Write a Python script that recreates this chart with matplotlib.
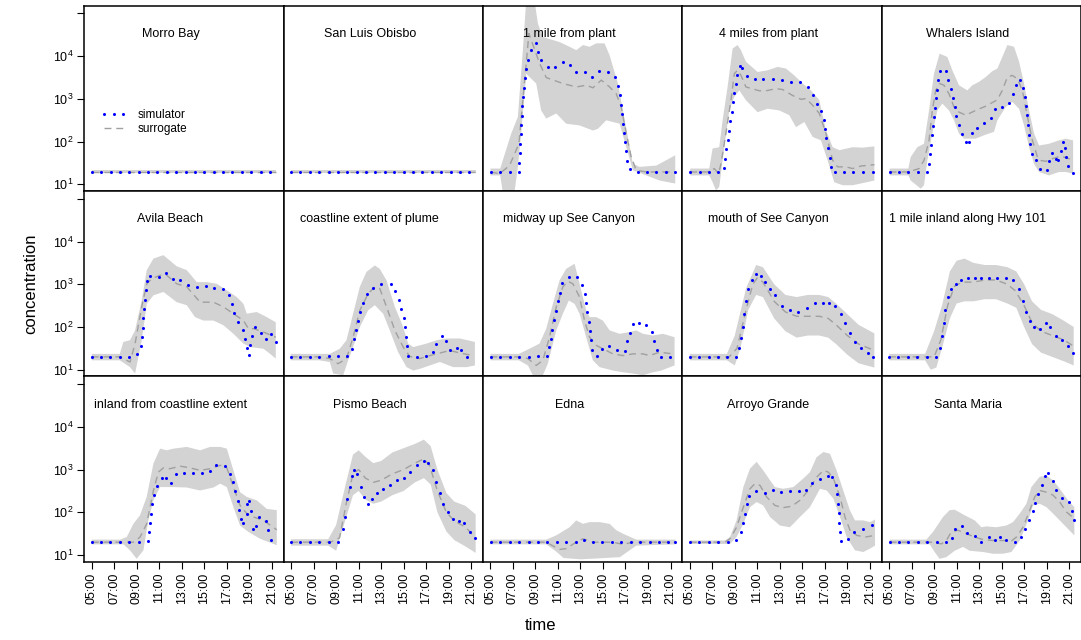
import matplotlib

matplotlib.use("Agg")
import matplotlib.pyplot as plt
from matplotlib.lines import Line2D
import numpy as np

plt.rcParams["font.family"] = ["Liberation Sans", "DejaVu Sans"]
plt.rcParams["mathtext.default"] = "regular"

# panel order: row by row, left to right
locations = [
    "Morro Bay", "San Luis Obisbo", "1 mile from plant", "4 miles from plant", "Whalers Island",
    "Avila Beach", "coastline extent of plume", "midway up See Canyon", "mouth of See Canyon",
    "1 mile inland along Hwy 101",
    "inland from coastline extent", "Pismo Beach", "Edna", "Arroyo Grande", "Santa Maria",
]

hour_ticks = [5, 7, 9, 11, 13, 15, 17, 19, 21]
hour_labels = ["05:00", "07:00", "09:00", "11:00", "13:00", "15:00", "17:00", "19:00", "21:00"]

flat_t = [5.0, 5.83, 6.67, 7.5, 8.33, 9.17, 10.0, 10.83, 11.67, 12.5, 13.33, 14.17, 15.0,
          15.83, 16.67, 17.5, 18.33, 19.17, 20.0, 20.83]
flat_v = [1.3] * 20

# simulator output: time (hours) and log10 concentration
sim_t = [
    flat_t,
    flat_t,
    [5.01, 5.87, 6.70, 7.53, 7.56, 7.59, 7.65, 7.71, 7.73, 7.79, 7.85, 7.91, 7.97, 8.03, 8.15, 8.36,
     8.59, 9.01, 9.25, 9.51, 10.1, 10.76, 11.41, 12.09, 12.57, 13.4, 14.05, 14.64, 15.41, 16.03,
     16.33, 16.5, 16.62, 16.71, 16.8, 16.89, 16.98, 17.07, 17.16, 17.4, 18.08, 18.91, 19.74, 20.6, 21.42],
    [5.04, 5.87, 6.70, 7.53, 8.04, 8.16, 8.24, 8.36, 8.48, 8.6, 8.72, 8.84, 8.96, 9.08, 9.19, 9.43,
     9.67, 10.08, 10.79, 11.53, 12.36, 13.19, 13.99, 14.79, 15.47, 15.92, 16.33, 16.69, 16.9, 17.02,
     17.13, 17.28, 17.46, 17.58, 17.87, 18.7, 19.53, 20.39, 21.25],
    [5.05, 5.88, 6.71, 7.57, 8.4, 8.58, 8.66, 8.75, 8.84, 8.93, 8.99, 9.08, 9.14, 9.23, 9.35, 9.49,
     10.03, 10.27, 10.53, 10.71, 10.83, 10.98, 11.18, 11.48, 11.84, 12.13, 12.37, 12.78, 13.44,
     14.06, 14.38, 15.06, 15.66, 16.04, 16.28, 16.61, 16.9, 17.05, 17.17, 17.26, 17.35, 17.47,
     17.55, 17.73, 18.03, 18.38, 19.01, 19.21, 19.48, 19.81, 20.04, 20.25, 20.46, 20.61, 20.75,
     20.9, 21.35],
    [5.0, 5.83, 6.66, 7.49, 8.32, 9.06, 9.38, 9.47, 9.53, 9.59, 9.65, 9.74, 9.8, 9.89, 10.18, 11.01,
     11.57, 12.2, 12.88, 13.53, 14.33, 15.16, 15.9, 16.7, 17.17, 17.5, 17.68, 18.03, 18.42, 18.6,
     18.77, 18.95, 19.1, 19.28, 19.46, 20.08, 20.46, 20.94, 21.35],
    [4.97, 5.83, 6.66, 7.49, 8.35, 9.18, 10.01, 10.43, 10.6, 10.78, 10.96, 11.14, 11.4, 11.76,
     12.32, 13.03, 13.86, 14.25, 14.57, 14.78, 14.99, 15.11, 15.2, 15.34, 15.43, 16.17, 17.03,
     17.57, 17.89, 18.37, 18.72, 19.11, 19.73, 20.14, 20.65],
    [5.01, 5.87, 6.7, 7.53, 8.39, 9.22, 10.02, 10.19, 10.34, 10.49, 10.64, 10.79, 10.99, 11.14,
     11.38, 11.94, 12.68, 13.1, 13.36, 13.51, 13.6, 13.72, 13.81, 13.9, 14.02, 14.43, 14.9, 15.56,
     16.24, 16.98, 17.13, 17.36, 17.66, 18.22, 18.85, 19.32, 19.53, 19.76, 20.12, 20.95],
    [5.0, 5.83, 6.67, 7.5, 8.33, 9.1, 9.4, 9.55, 9.7, 9.85, 10.0, 10.2, 10.5, 10.9, 11.3, 11.7,
     12.1, 12.6, 13.2, 13.9, 14.6, 15.4, 16.1, 16.8, 17.4, 17.9, 18.4, 18.8, 19.2, 19.7, 20.2,
     20.8, 21.3],
    [5.0, 5.83, 6.67, 7.5, 8.33, 9.17, 9.5, 9.7, 9.85, 10.0, 10.2, 10.5, 10.9, 11.4, 12.0, 12.6,
     13.2, 13.9, 14.6, 15.4, 16.0, 16.5, 16.9, 17.2, 17.5, 17.9, 18.4, 18.9, 19.3, 19.8, 20.4,
     20.9, 21.3],
    [5.0, 5.83, 6.66, 7.51, 8.35, 9.17, 9.97, 10.09, 10.18, 10.27, 10.39, 10.57, 10.83, 11.22,
     11.6, 12.05, 12.46, 13.23, 14.03, 14.78, 15.52, 16.02, 16.85, 17.29, 17.59, 17.77, 17.95,
     18.12, 18.3, 18.48, 18.78, 18.83, 18.95, 19.13, 19.37, 19.6, 19.9, 20.46, 20.7, 20.91],
    [5.0, 5.83, 6.67, 7.5, 8.33, 9.17, 9.6, 9.8, 10.0, 10.2, 10.4, 10.6, 10.9, 11.2, 11.5, 11.8,
     12.2, 12.6, 13.2, 13.8, 14.4, 15.0, 15.6, 16.2, 16.8, 17.2, 17.6, 17.9, 18.2, 18.5, 18.9,
     19.4, 19.9, 20.4, 20.9, 21.3],
    [5.01, 5.87, 6.7, 7.53, 8.39, 9.22, 10.05, 10.91, 11.73, 12.56, 13.31, 14.1, 14.93, 15.79,
     16.62, 17.45, 18.31, 19.14, 19.97, 20.8, 21.4],
    [5.01, 5.84, 6.7, 7.53, 8.36, 9.1, 9.52, 9.76, 9.9, 10.05, 10.29, 10.91, 11.71, 12.39, 13.07,
     13.87, 14.67, 15.36, 15.89, 16.6, 17.25, 17.67, 17.96, 18.08, 18.17, 18.23, 18.29, 18.35,
     18.47, 19.09, 19.59, 20.42, 21.16],
    [5.05, 5.88, 6.71, 7.57, 8.4, 9.23, 10.06, 10.62, 10.89, 11.48, 11.92, 12.64, 13.2, 13.85,
     14.41, 14.89, 15.42, 16.16, 16.72, 17.08, 17.41, 17.79, 17.97, 18.24, 18.59, 18.86, 19.12,
     19.57, 19.87, 20.34, 21.02, 21.26, 21.46],
]
sim_v = [
    flat_v,
    flat_v,
    [1.29, 1.29, 1.29, 1.29, 1.51, 1.73, 1.95, 2.17, 2.38, 2.6, 2.83, 3.05, 3.26, 3.49, 3.71, 3.92,
     4.14, 4.31, 4.1, 3.9, 3.75, 3.75, 3.87, 3.8, 3.63, 3.62, 3.52, 3.65, 3.64, 3.51,
     3.3, 3.08, 2.86, 2.64, 2.42, 2.2, 1.98, 1.77, 1.55, 1.35, 1.29, 1.29, 1.29, 1.29, 1.29],
    [1.29, 1.29, 1.29, 1.29, 1.39, 1.6, 1.82, 2.03, 2.25, 2.48, 2.69, 2.93, 3.14, 3.36, 3.56, 3.78,
     3.72, 3.53, 3.47, 3.47, 3.47, 3.45, 3.4, 3.4, 3.28, 3.1, 2.89, 2.71, 2.5, 2.29,
     2.09, 1.86, 1.62, 1.41, 1.29, 1.29, 1.29, 1.29, 1.29],
    [1.29, 1.29, 1.29, 1.29, 1.29, 1.48, 1.7, 1.93, 2.15, 2.36, 2.58, 2.79, 3.01, 3.22, 3.44, 3.66,
     3.66, 3.45, 3.24, 3.02, 2.81, 2.59, 2.39, 2.17, 1.98, 1.98, 2.2, 2.33, 2.44,
     2.56, 2.77, 2.8, 2.9, 3.11, 3.32, 3.45, 3.26, 3.05, 2.83, 2.62, 2.38, 2.16,
     1.94, 1.72, 1.56, 1.35, 1.33, 1.54, 1.74, 1.6, 1.56, 1.78, 1.99, 1.85, 1.64,
     1.42, 1.27],
    [1.3, 1.3, 1.3, 1.3, 1.3, 1.36, 1.55, 1.76, 1.98, 2.2, 2.42, 2.64, 2.86, 3.08, 3.19, 3.18,
     3.27, 3.12, 3.11, 2.99, 2.93, 2.96, 2.91, 2.9, 2.74, 2.54, 2.33, 2.12, 1.94, 1.72,
     1.51, 1.35, 1.58, 1.78, 1.99, 1.87, 1.71, 1.84, 1.65],
    [1.3, 1.3, 1.3, 1.3, 1.31, 1.31, 1.32, 1.49, 1.71, 1.93, 2.15, 2.35, 2.56, 2.76,
     2.92, 3.01, 3.0, 2.83, 2.63, 2.42, 2.21, 1.99, 1.77, 1.55, 1.33, 1.3, 1.31,
     1.41, 1.61, 1.8, 1.66, 1.47, 1.51, 1.45, 1.3],
    [1.3, 1.3, 1.3, 1.3, 1.3, 1.31, 1.32, 1.52, 1.73, 1.94, 2.16, 2.38, 2.6, 2.79,
     3.03, 3.17, 3.17, 2.99, 2.78, 2.56, 2.34, 2.12, 1.9, 1.69, 1.47, 1.32, 1.49, 1.56,
     1.47, 1.44, 1.66, 1.87, 2.08, 2.09, 2.05, 1.89, 1.67, 1.47, 1.3, 1.3],
    [1.3, 1.3, 1.3, 1.3, 1.3, 1.3, 1.5, 1.75, 2.0, 2.3, 2.6, 2.9, 3.1, 3.25, 3.2, 3.05,
     2.9, 2.75, 2.5, 2.4, 2.35, 2.45, 2.55, 2.55, 2.55, 2.5, 2.3, 2.1, 1.85, 1.65, 1.5,
     1.4, 1.3],
    [1.3, 1.3, 1.3, 1.3, 1.3, 1.3, 1.5, 1.8, 2.1, 2.4, 2.7, 2.9, 3.0, 3.1, 3.15, 3.15,
     3.15, 3.15, 3.15, 3.15, 3.1, 2.9, 2.6, 2.35, 2.15, 2.0, 1.95, 2.1, 2.0, 1.8, 1.7,
     1.55, 1.4],
    [1.3, 1.3, 1.3, 1.3, 1.3, 1.3, 1.32, 1.53, 1.75, 1.97, 2.19, 2.4, 2.61, 2.81,
     2.81, 2.69, 2.89, 2.93, 2.91, 2.93, 2.97, 3.11, 3.08, 2.9, 2.71, 2.49, 2.27,
     2.06, 1.85, 1.76, 1.97, 2.19, 2.26, 2.04, 1.62, 1.69, 1.89, 1.8, 1.58, 1.36],
    [1.3, 1.3, 1.3, 1.3, 1.3, 1.3, 1.6, 1.9, 2.3, 2.6, 2.85, 3.0, 2.9, 2.6, 2.35, 2.2,
     2.3, 2.45, 2.55, 2.65, 2.75, 2.8, 2.95, 3.1, 3.2, 3.15, 3.0, 2.7, 2.45, 2.2, 2.0,
     1.85, 1.8, 1.75, 1.55, 1.4],
    [1.3, 1.3, 1.3, 1.3, 1.3, 1.3, 1.3, 1.3, 1.3, 1.3, 1.36, 1.3, 1.3, 1.3,
     1.3, 1.3, 1.3, 1.3, 1.3, 1.3, 1.3],
    [1.3, 1.3, 1.3, 1.3, 1.3, 1.36, 1.54, 1.75, 1.97, 2.19, 2.37, 2.5, 2.44, 2.51, 2.47,
     2.5, 2.5, 2.53, 2.68, 2.77, 2.86, 2.82, 2.63, 2.42, 2.2, 1.98, 1.76, 1.53,
     1.32, 1.37, 1.55, 1.61, 1.71],
    [1.3, 1.3, 1.3, 1.3, 1.3, 1.3, 1.3, 1.4, 1.6, 1.69, 1.51, 1.44, 1.3, 1.42,
     1.34, 1.43, 1.34, 1.3, 1.42, 1.62, 1.82, 2.02, 2.22, 2.43, 2.65, 2.85, 2.92,
     2.73, 2.53, 2.34, 2.24, 2.02, 1.81],
]

# surrogate mean (dashed) and band edges, log10 concentration
sur_t = [
    [5.0, 21.4], [5.0, 21.4],
    [5.04, 5.81, 6.7, 7.53, 8.42, 9.37, 9.96, 11.44, 12.63, 13.52, 14.11, 14.85, 15.59, 16.18,
     16.62, 17.07, 17.51, 17.96, 18.85, 21.42],
    [5.04, 5.9, 6.7, 7.18, 7.56, 7.77, 8.21, 8.66, 8.96, 9.25, 9.55, 9.99, 11.18, 11.77, 12.66,
     13.25, 14.14, 14.88, 15.33, 15.92, 16.51, 17.1, 17.7, 18.14, 18.88, 19.47, 20.21, 21.4],
    [5.05, 6.71, 7.66, 8.1, 8.55, 8.84, 9.14, 9.49, 9.88, 10.32, 10.77, 11.21, 11.81, 12.69,
     13.58, 14.62, 15.06, 15.51, 15.95, 16.4, 16.84, 17.29, 17.73, 18.18, 18.47, 18.92, 19.51,
     20.25, 20.99, 21.35],
    [5.0, 7.49, 8.4, 8.85, 9.44, 9.89, 10.33, 11.07, 11.66, 12.55, 13.44, 14.63, 15.81, 16.7,
     17.59, 18.48, 18.92, 19.37, 20.26, 21.35],
    [4.97, 7.49, 8.44, 9.18, 9.92, 10.51, 11.11, 11.85, 12.44, 12.88, 13.48, 14.22, 14.96,
     15.55, 16.44, 17.33, 18.22, 19.11, 19.7, 20.59, 21.18],
    [5.01, 7.53, 8.33, 9.07, 9.66, 10.25, 10.85, 11.44, 11.88, 12.33, 12.92, 13.36, 13.81, 14.4,
     15.29, 15.88, 16.77, 17.66, 18.55, 19.14, 20.03, 21.22],
    [5.0, 8.5, 9.2, 10.0, 10.6, 11.0, 11.5, 12.5, 13.5, 14.5, 15.5, 16.5, 17.3, 18.0, 19.0,
     20.0, 21.4],
    [5.0, 8.5, 9.0, 9.6, 10.2, 10.8, 11.5, 12.5, 13.5, 14.5, 15.5, 16.2, 17.0, 17.7, 18.5,
     19.5, 20.5, 21.4],
    [5.0, 8.7, 9.29, 9.88, 10.48, 10.92, 11.37, 11.96, 12.85, 13.74, 14.63, 15.52, 16.41, 17.0,
     17.59, 18.18, 18.78, 19.37, 20.26, 21.44],
    [5.0, 8.5, 9.3, 9.9, 10.5, 11.0, 11.6, 12.3, 13.0, 14.0, 15.0, 16.0, 16.8, 17.3, 18.0,
     18.8, 19.5, 20.5, 21.4],
    [5.01, 9.96, 11.14, 11.73, 12.62, 13.22, 14.1, 15.88, 16.77, 17.66, 21.45],
    [5.01, 8.13, 8.57, 9.16, 9.76, 10.35, 10.79, 11.24, 11.83, 12.57, 13.31, 14.05, 14.79,
     15.53, 16.27, 16.87, 17.31, 17.76, 18.35, 18.79, 19.24, 19.83, 20.57, 21.46],
    [5.05, 8.9, 9.64, 10.09, 10.53, 11.12, 11.86, 12.61, 13.35, 14.24, 15.12, 15.87, 16.31,
     16.9, 17.5, 17.94, 18.38, 18.98, 19.57, 20.16, 20.75, 21.46],
]
sur_v = [
    [1.3, 1.3], [1.3, 1.3],
    [1.29, 1.25, 1.44, 1.95, 4.53, 3.83, 3.5, 3.36, 3.28, 3.32, 3.26, 3.44, 3.28, 3.12,
     2.81, 2.19, 1.64, 1.33, 1.29, 1.29],
    [1.29, 1.29, 1.29, 1.37, 1.25, 1.48, 2.19, 2.97, 3.59, 3.67, 3.55, 3.28, 3.19, 3.19, 3.24,
     3.22, 3.08, 2.99, 3.01, 2.85, 2.66, 2.19, 1.56, 1.41, 1.41, 1.37, 1.43, 1.46],
    [1.29, 1.29, 1.37, 1.56, 2.03, 2.73, 3.2, 3.36, 3.32, 3.12, 2.81, 2.69, 2.62, 2.73,
     2.83, 2.98, 3.2, 3.51, 3.55, 3.47, 3.2, 2.58, 2.03, 1.64, 1.56, 1.54, 1.6,
     1.66, 1.6, 1.58],
    [1.3, 1.3, 1.18, 1.61, 2.47, 3.01, 3.13, 3.21, 3.21, 3.01, 2.94, 2.58, 2.58, 2.47,
     2.31, 2.15, 1.96, 1.96, 1.88, 1.76],
    [1.3, 1.3, 1.26, 1.14, 1.26, 1.76, 2.39, 2.78, 2.94, 2.9, 2.47, 1.92, 1.53,
     1.31, 1.26, 1.33, 1.39, 1.45, 1.41, 1.36, 1.33],
    [1.3, 1.3, 1.26, 1.1, 1.22, 1.76, 2.47, 2.94, 3.07, 3.01, 2.7, 2.15, 1.76, 1.57,
     1.45, 1.37, 1.33, 1.37, 1.37, 1.33, 1.41, 1.37],
    [1.3, 1.3, 1.5, 2.4, 3.0, 3.15, 3.05, 2.6, 2.35, 2.25, 2.25, 2.25, 2.2, 2.05, 1.8,
     1.6, 1.45],
    [1.3, 1.3, 1.3, 1.7, 2.5, 2.95, 3.05, 3.05, 3.1, 3.1, 3.0, 2.85, 2.5, 2.1, 1.9,
     1.8, 1.7, 1.55],
    [1.3, 1.3, 1.42, 1.73, 2.51, 2.94, 3.04, 3.02, 3.08, 3.04, 2.98, 3.02, 3.1, 3.04,
     2.59, 2.16, 1.97, 1.89, 1.81, 1.59],
    [1.3, 1.3, 1.4, 2.2, 2.9, 3.0, 2.8, 2.7, 2.75, 2.9, 3.0, 3.15, 3.25, 3.1, 2.5,
     2.0, 1.8, 1.65, 1.4],
    [1.3, 1.3, 1.13, 1.15, 1.3, 1.38, 1.3, 1.3, 1.25, 1.3, 1.3],
    [1.3, 1.3, 1.38, 1.65, 2.12, 2.55, 2.67, 2.63, 2.36, 2.16, 2.11, 2.14, 2.28,
     2.51, 2.82, 2.98, 2.94, 2.79, 2.36, 1.89, 1.58, 1.46, 1.42, 1.46],
    [1.3, 1.3, 1.26, 1.34, 1.54, 1.58, 1.5, 1.42, 1.36, 1.34, 1.34, 1.33, 1.42,
     1.65, 2.05, 2.36, 2.51, 2.47, 2.4, 2.24, 2.01, 1.85],
]

hi_t = [
    [5.0, 21.4], [5.0, 21.4],
    [5.01, 5.87, 6.85, 7.44, 7.88, 8.18, 8.92, 9.22, 9.66, 11.14, 12.03, 12.63, 13.22, 13.81,
     14.4, 15.14, 15.59, 16.33, 16.77, 17.66, 18.25, 19.74, 21.42],
    [5.04, 6.73, 7.03, 7.62, 7.92, 8.36, 8.81, 9.25, 9.55, 9.99, 11.03, 11.92, 12.81, 13.55,
     14.29, 15.03, 15.77, 16.51, 17.1, 17.7, 18.29, 19.47, 20.36, 21.4],
    [5.05, 6.71, 6.92, 7.51, 8.1, 8.55, 8.99, 9.49, 10.18, 10.62, 11.21, 11.95, 12.4, 12.99,
     13.58, 14.18, 14.62, 15.06, 15.51, 16.1, 16.55, 16.99, 17.44, 17.88, 18.32, 19.21, 20.1,
     20.69, 21.35],
    [5.0, 7.49, 7.81, 8.4, 8.85, 9.44, 9.89, 10.48, 11.37, 12.55, 13.44, 14.33, 15.22, 16.11,
     16.99, 17.89, 18.48, 18.77, 19.66, 20.55, 21.35],
    [4.97, 7.49, 8.44, 9.33, 9.92, 10.51, 11.11, 11.7, 12.44, 12.88, 13.48, 14.22, 14.96, 15.4,
     15.85, 17.03, 17.92, 18.81, 20.0, 21.33],
    [5.01, 7.53, 8.47, 9.36, 9.96, 10.55, 11.14, 11.73, 12.48, 12.92, 13.51, 13.81, 14.4,
     14.99, 15.59, 16.47, 17.36, 17.96, 18.55, 19.44, 20.33, 21.36],
    [5.0, 8.3, 9.0, 10.0, 10.9, 11.5, 12.5, 13.5, 14.5, 15.5, 16.5, 17.3, 18.0, 19.0, 20.0,
     21.4],
    [5.0, 8.2, 9.0, 9.7, 10.4, 11.0, 11.7, 12.5, 13.5, 14.5, 15.5, 16.3, 17.0, 17.7, 18.5,
     19.5, 20.5, 21.4],
    [5.0, 7.52, 8.11, 8.7, 9.29, 9.88, 10.48, 11.07, 11.66, 12.26, 13.44, 14.63, 15.52, 16.41,
     17.0, 17.59, 18.18, 18.78, 19.66, 20.55, 21.44],
    [5.0, 8.3, 9.0, 9.8, 10.5, 11.0, 11.6, 12.3, 13.0, 14.0, 15.0, 16.0, 16.8, 17.4, 18.0,
     18.8, 19.5, 20.5, 21.4],
    [5.01, 9.96, 10.85, 12.03, 12.62, 13.22, 13.81, 14.7, 15.59, 16.18, 16.77, 17.96, 21.45],
    [5.01, 8.13, 8.57, 9.16, 9.76, 10.35, 10.94, 11.53, 12.13, 12.57, 13.31, 14.2, 15.09,
     15.68, 16.27, 16.87, 17.46, 18.05, 18.64, 19.24, 19.68, 20.42, 21.01, 21.46],
    [5.05, 8.31, 8.9, 9.79, 10.38, 10.83, 11.72, 12.61, 13.2, 13.64, 14.53, 15.42, 16.01,
     16.61, 17.2, 17.64, 18.38, 18.98, 19.57, 20.16, 20.9, 21.46],
]
hi_v = [
    [1.34, 1.34], [1.34, 1.34],
    [1.37, 1.37, 2.19, 2.58, 4.14, 5.3, 5.3, 4.76, 4.45, 4.33, 4.22, 4.14, 4.26, 4.22,
     4.3, 4.3, 4.02, 3.36, 2.73, 1.48, 1.41, 1.44, 1.68],
    [1.37, 1.37, 1.84, 1.87, 2.5, 3.28, 4.18, 4.26, 4.14, 3.87, 3.63, 3.67, 3.75, 3.71,
     3.55, 3.36, 3.2, 2.97, 2.27, 1.87, 1.8, 1.87, 1.86, 1.89],
    [1.37, 1.37, 1.64, 1.87, 1.95, 2.73, 3.59, 4.06, 3.98, 3.67, 3.32, 3.2, 3.32, 3.4,
     3.51, 3.65, 3.71, 3.98, 4.26, 4.22, 3.87, 3.36, 2.73, 2.19, 1.91, 1.95, 2.03,
     2.07, 2.03],
    [1.37, 1.37, 1.65, 1.69, 1.92, 2.62, 3.33, 3.6, 3.68, 3.42, 3.33, 3.05, 3.05, 3.01,
     2.86, 2.7, 2.54, 2.31, 2.35, 2.23, 2.11],
    [1.37, 1.37, 1.37, 1.49, 1.69, 2.31, 2.94, 3.29, 3.44, 3.36, 3.09, 2.47, 2.0, 1.61,
     1.53, 1.61, 1.69, 1.73, 1.73, 1.65],
    [1.37, 1.37, 1.49, 1.61, 1.96, 2.54, 3.09, 3.36, 3.48, 3.01, 2.39, 2.23, 2.23,
     2.15, 1.92, 1.84, 1.88, 1.92, 1.84, 1.8, 1.84, 1.76],
    [1.37, 1.37, 1.8, 2.9, 3.45, 3.4, 3.0, 2.75, 2.7, 2.75, 2.75, 2.7, 2.55, 2.3, 2.05,
     1.85],
    [1.37, 1.37, 1.9, 2.5, 3.3, 3.55, 3.6, 3.5, 3.45, 3.45, 3.4, 3.3, 3.0, 2.6, 2.4,
     2.3, 2.15, 2.0],
    [1.36, 1.36, 1.42, 1.73, 1.93, 2.36, 3.14, 3.49, 3.45, 3.49, 3.53, 3.45, 3.53, 3.53,
     3.49, 2.98, 2.47, 2.36, 2.28, 2.08, 2.05],
    [1.37, 1.37, 1.7, 2.6, 3.35, 3.45, 3.3, 3.15, 3.2, 3.4, 3.5, 3.6, 3.7, 3.55, 3.0,
     2.45, 2.25, 2.15, 1.95],
    [1.36, 1.36, 1.46, 1.65, 1.81, 1.73, 1.77, 1.77, 1.73, 1.58, 1.5, 1.36, 1.36],
    [1.34, 1.34, 1.42, 1.81, 2.59, 3.02, 3.18, 2.98, 2.75, 2.59, 2.55, 2.59, 2.79,
     2.94, 3.29, 3.41, 3.37, 2.98, 2.51, 2.04, 1.81, 1.81, 1.77, 1.83],
    [1.36, 1.36, 1.54, 1.89, 2.05, 2.06, 1.93, 1.81, 1.65, 1.67, 1.65, 1.69, 1.77,
     1.97, 2.2, 2.59, 2.83, 2.86, 2.75, 2.55, 2.28, 2.12],
]

lo_t = [
    [5.0, 21.4], [5.0, 21.4],
    [5.01, 5.87, 6.1, 7.14, 7.44, 7.73, 8.18, 9.07, 9.51, 9.96, 10.85, 11.73, 12.92, 14.11,
     14.55, 15.29, 16.48, 17.07, 17.66, 18.85, 20.03, 21.42],
    [5.04, 6.73, 7.03, 7.33, 7.62, 7.92, 8.51, 8.96, 9.4, 9.99, 11.03, 11.92, 12.96, 13.84,
     14.44, 15.18, 15.92, 16.66, 17.25, 17.84, 18.59, 19.47, 20.36, 21.4],
    [5.05, 6.71, 6.92, 7.81, 8.1, 8.4, 8.84, 9.29, 9.73, 10.32, 10.77, 11.21, 11.66, 12.69,
     13.44, 14.32, 14.62, 15.36, 15.95, 16.55, 16.99, 17.44, 17.88, 18.32, 19.21, 20.1,
     20.69, 21.35],
    [5.0, 7.49, 8.4, 8.85, 9.44, 9.89, 10.48, 11.37, 12.55, 13.44, 14.18, 14.92, 15.81,
     16.7, 17.59, 18.48, 19.07, 20.26, 20.85, 21.35],
    [4.97, 7.49, 8.44, 8.74, 9.63, 10.07, 10.51, 11.11, 11.85, 12.44, 13.18, 13.77, 14.51,
     15.26, 15.85, 16.44, 17.33, 18.22, 19.4, 20.59, 21.33],
    [5.01, 7.53, 8.33, 8.77, 9.66, 10.1, 10.85, 11.44, 11.97, 12.48, 12.92, 13.51, 14.1,
     14.7, 15.88, 16.77, 17.66, 18.55, 19.44, 20.18, 21.36],
    [5.0, 8.3, 9.0, 9.5, 10.2, 10.9, 11.5, 12.5, 13.5, 14.5, 15.5, 16.5, 17.3, 18.0, 19.0,
     20.0, 21.4],
    [5.0, 8.2, 8.7, 9.2, 9.8, 10.4, 11.0, 11.7, 12.5, 13.5, 14.5, 15.5, 16.3, 17.0, 17.7,
     18.5, 19.5, 20.5, 21.4],
    [5.0, 7.81, 8.4, 8.99, 9.59, 10.03, 10.48, 11.07, 12.26, 13.44, 14.63, 15.81, 16.41,
     17.0, 17.59, 18.18, 18.92, 19.96, 21.44],
    [5.0, 8.3, 9.0, 9.8, 10.5, 11.0, 11.6, 12.3, 13.0, 14.0, 15.0, 16.0, 16.8, 17.4, 18.0,
     18.8, 19.5, 20.5, 21.4],
    [5.01, 9.96, 10.85, 11.5, 13.0, 14.5, 16.5, 17.96, 21.45],
    [5.01, 8.13, 8.57, 9.16, 9.76, 10.35, 10.94, 11.53, 12.13, 13.01, 13.9, 14.79, 15.68,
     16.57, 17.16, 17.76, 18.35, 18.94, 19.68, 20.42, 21.01, 21.46],
    [5.05, 8.61, 9.05, 9.49, 10.09, 10.83, 11.57, 12.16, 13.35, 14.24, 15.12, 15.87, 16.61,
     17.35, 17.79, 18.38, 18.98, 19.57, 20.16, 20.9, 21.46],
]
lo_v = [
    [1.26, 1.26], [1.26, 1.26],
    [1.21, 1.21, 0.82, 0.82, 1.41, 2.19, 3.59, 3.36, 2.73, 2.54, 2.66, 2.42, 2.38, 2.26,
     2.3, 2.5, 2.42, 1.87, 1.33, 1.21, 1.09, 1.02],
    [1.21, 1.21, 1.05, 0.86, 0.94, 1.56, 2.73, 3.05, 3.2, 2.97, 2.69, 2.77, 2.73, 2.62,
     2.34, 2.46, 2.11, 2.03, 1.56, 1.05, 0.98, 0.98, 1.03, 1.09],
    [1.21, 1.21, 1.09, 0.9, 0.98, 1.56, 2.19, 2.73, 2.89, 2.73, 2.5, 2.19, 2.07, 2.07,
     2.15, 2.23, 2.5, 2.81, 2.93, 2.77, 2.38, 1.87, 1.48, 1.29, 1.21, 1.29,
     1.29, 1.25],
    [1.22, 1.22, 1.06, 0.91, 1.69, 2.54, 2.74, 2.82, 2.58, 2.51, 2.23, 2.15, 2.15,
     2.04, 1.84, 1.61, 1.53, 1.49, 1.37, 1.26],
    [1.22, 1.22, 1.18, 0.91, 0.87, 1.22, 1.53, 2.0, 2.39, 2.51, 2.31, 1.92, 1.41,
     1.06, 0.98, 1.02, 1.1, 1.18, 1.06, 1.06, 1.1],
    [1.22, 1.22, 1.1, 0.87, 0.87, 1.14, 1.92, 2.31, 2.62, 2.54, 2.31, 1.76, 1.22,
     1.06, 0.98, 0.94, 0.91, 0.87, 0.94, 0.98, 1.1],
    [1.22, 1.22, 1.1, 1.5, 2.4, 2.75, 2.7, 2.2, 1.9, 1.75, 1.8, 1.8, 1.75, 1.6, 1.35,
     1.15, 1.05],
    [1.22, 1.22, 1.0, 1.05, 1.6, 2.2, 2.55, 2.6, 2.6, 2.65, 2.65, 2.55, 2.45, 2.0, 1.6,
     1.4, 1.3, 1.2, 1.1],
    [1.25, 1.25, 1.11, 0.91, 1.11, 1.81, 2.28, 2.59, 2.59, 2.58, 2.51, 2.58, 2.67,
     2.59, 2.12, 1.69, 1.54, 1.38, 1.23],
    [1.22, 1.22, 1.1, 1.8, 2.4, 2.5, 2.3, 2.2, 2.25, 2.4, 2.5, 2.7, 2.8, 2.65, 2.0,
     1.55, 1.35, 1.2, 1.05],
    [1.25, 1.25, 1.08, 0.93, 0.9, 0.92, 0.95, 1.22, 1.25],
    [1.26, 1.26, 1.26, 1.42, 1.73, 2.12, 2.24, 2.16, 1.89, 1.69, 1.65, 1.89, 2.12,
     2.55, 2.51, 2.32, 1.89, 1.42, 1.11, 1.07, 1.15, 1.22],
    [1.25, 1.25, 1.07, 0.91, 0.95, 1.1, 1.19, 1.1, 1.07, 1.03, 1.03, 1.07, 1.34,
     1.81, 2.16, 2.2, 2.12, 1.97, 1.81, 1.61, 1.46],
]

fig, axes = plt.subplots(3, 5, figsize=(10.81, 6.4), dpi=100, sharex=True, sharey=True)
fig.subplots_adjust(left=0.078, right=1.0, top=0.991, bottom=0.1223, wspace=0, hspace=0)

for i, ax in enumerate(axes.flat):
    ht = np.array(hi_t[i])
    lt = np.array(lo_t[i])
    poly_x = np.concatenate([ht, lt[::-1]])
    poly_y = np.concatenate([10 ** np.array(hi_v[i]), 10 ** np.array(lo_v[i])[::-1]])
    ax.fill(poly_x, poly_y, color="#d3d3d3", lw=0, zorder=1)
    ax.plot(sur_t[i], 10 ** np.array(sur_v[i]), color="#a0a0a0", lw=1.0,
            dashes=(5, 3.5), zorder=2)
    ax.plot(sim_t[i], 10 ** np.array(sim_v[i]), ls="none", marker="o", ms=2.2,
            mfc="blue", mec="none", zorder=3)
    ax.text(12, 10 ** 4.52, locations[i], ha="center", va="center", fontsize=9)

    ax.set_yscale("log")
    ax.set_xlim(4.34, 22.05)
    ax.set_ylim(10 ** 0.843, 10 ** 5.18)
    for sp in ax.spines.values():
        sp.set_linewidth(1.1)
    ax.minorticks_off()
    ax.set_yticks([1e1, 1e2, 1e3, 1e4, 1e5])
    ax.set_yticklabels(["$10^{1}$", "$10^{2}$", "$10^{3}$", "$10^{4}$", ""])
    ax.set_xticks(hour_ticks)
    ax.set_xticklabels(hour_labels, rotation=90)
    ax.tick_params(direction="out", length=5, width=0.8, labelsize=9, pad=3,
                   left=(i % 5 == 0), labelleft=(i % 5 == 0),
                   bottom=(i >= 10), labelbottom=(i >= 10))

handles = [
    Line2D([], [], ls="none", marker="o", ms=2.2, mfc="blue", mec="none"),
    Line2D([], [], color="#a0a0a0", lw=1.0, dashes=(5, 3.5)),
]
axes[0, 0].legend(handles, ["simulator", "surrogate"], loc="upper left",
                  bbox_to_anchor=(0.03, 0.5), frameon=False, fontsize=8.5, numpoints=3,
                  handlelength=2.2, handletextpad=0.9, labelspacing=0.15)

fig.text(0.5, 0.022, "time", ha="center", va="center", fontsize=12)
fig.text(0.028, 0.557, "concentration", ha="center", va="center", rotation=90, fontsize=12)

fig.savefig("out.png", dpi=100)
